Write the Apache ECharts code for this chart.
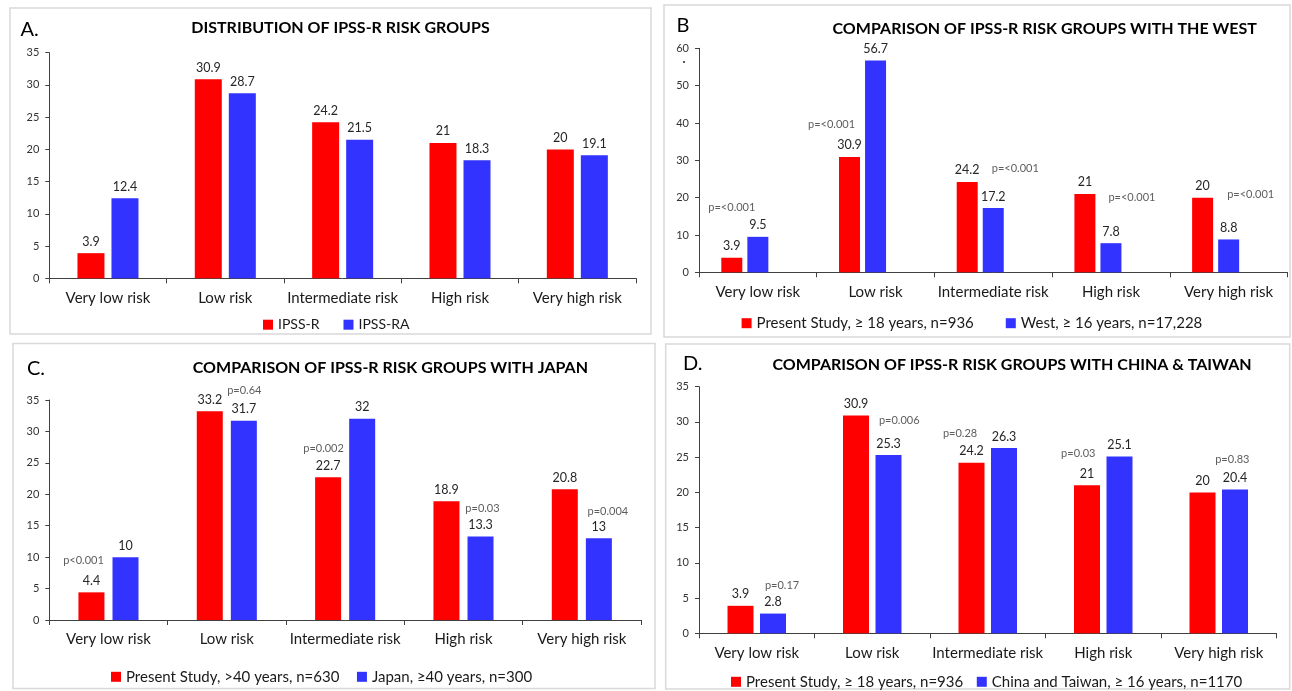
<!DOCTYPE html>
<html>
<head>
<meta charset="utf-8">
<title>IPSS-R risk groups</title>
<script src="https://cdn.jsdelivr.net/npm/echarts@6/dist/echarts.min.js"></script>
<style>
  html, body { margin: 0; padding: 0; background: #ffffff; }
  #chart { width: 1292px; height: 691px; }
</style>
</head>
<body>
<div id="chart"></div>
<script>
// ---- data ----
const categories = ['Very low risk', 'Low risk', 'Intermediate risk', 'High risk', 'Very high risk'];

// A. distribution of IPSS-R risk groups
const namesA = ['IPSS-R', 'IPSS-RA'];
const ipssR = [3.9, 30.9, 24.2, 21, 20];
const ipssRA = [12.4, 28.7, 21.5, 18.3, 19.1];

// B. comparison with the West
const namesB = ['Present Study, \u2265 18 years, n=936', 'West, \u2265 16 years, n=17,228'];
const presentB = [3.9, 30.9, 24.2, 21, 20];
const west = [9.5, 56.7, 17.2, 7.8, 8.8];
const pTextB = ['p=<0.001', 'p=<0.001', 'p=<0.001', 'p=<0.001', 'p=<0.001'];
const pBarB = [1, 0, 0, 1, 1];      // which bar of the pair each p-value annotates

// C. comparison with Japan
const namesC = ['Present Study, >40 years, n=630', 'Japan, \u226540 years, n=300'];
const presentC = [4.4, 33.2, 22.7, 18.9, 20.8];
const japan = [10, 31.7, 32, 13.3, 13];
const pTextC = ['p<0.001', 'p=0.64', 'p=0.002', 'p=0.03', 'p=0.004'];
const pBarC = [0, 1, 0, 1, 1];

// D. comparison with China & Taiwan
const namesD = ['Present Study, \u2265 18 years, n=936', 'China and Taiwan, \u2265 16 years, n=1170'];
const presentD = [3.9, 30.9, 24.2, 21, 20];
const chinaTaiwan = [2.8, 25.3, 26.3, 25.1, 20.4];
const pTextD = ['p=0.17', 'p=0.006', 'p=0.28', 'p=0.03', 'p=0.83'];
const pBarD = [1, 1, 0, 0, 1];

// axis ranges
const yRangeA = { max: 35, step: 5 };
const yRangeB = { max: 60, step: 10 };
const yRangeC = { max: 35, step: 5 };
const yRangeD = { max: 35, step: 5 };

// ---- layout & style ----
const FONT = 'Lato, "Open Sans", "DejaVu Sans", sans-serif';
const RED = '#FF0000';
const BLUE = '#3333FF';
const AXIS = '#404040';
const TEXT = '#1a1a1a';

const panels = [
  {
    letter: 'A.', title: 'DISTRIBUTION OF IPSS-R RISK GROUPS',
    names: namesA, values: [ipssR, ipssRA], range: yRangeA,
    pText: null, pBar: null, spacer: false,
    grid: { left: 49.3, top: 52.7, width: 586.7, height: 225.6 },
    barWidth: 27, barGap: '26%',
    box: [10, 8, 641, 326], titlePos: [340.5, 28], letterPos: [20.5, 30],
    legend: { left: 263, top: 317.7, itemGap: 24, fontSize: 14 },
    pOffsets: null
  },
  {
    letter: 'B', title: 'COMPARISON OF IPSS-R RISK GROUPS WITH THE WEST',
    names: namesB, values: [presentB, west], range: yRangeB,
    pText: pTextB, pBar: pBarB, spacer: true,
    grid: { left: 699, top: 48.3, width: 588.5, height: 224 },
    barWidth: 21, barGap: '24%',
    box: [664, 5, 626, 332], titlePos: [1044.7, 29], letterPos: [676.5, 26],
    legend: { left: 741.6, top: 315.7, itemGap: 32, fontSize: 15 },
    pOffsets: [[-26, -29], [-44, -32], [22, -14], [21, -46], [22, -44.5]]
  },
  {
    letter: 'C.', title: 'COMPARISON OF IPSS-R RISK GROUPS WITH JAPAN',
    names: namesC, values: [presentC, japan], range: yRangeC,
    pText: pTextC, pBar: pBarC, spacer: false,
    grid: { left: 49.3, top: 400, width: 591.7, height: 220 },
    barWidth: 26, barGap: '31%',
    box: [13, 343.5, 642, 345], titlePos: [390.4, 368.3], letterPos: [27, 368.3],
    legend: { left: 111, top: 669.3, itemGap: 17.6, fontSize: 15 },
    pOffsets: [[-25, -31.6], [17.5, -30.7], [-21.6, -29], [19, -28], [26, -27.3]]
  },
  {
    letter: 'D.', title: 'COMPARISON OF IPSS-R RISK GROUPS WITH CHINA & TAIWAN',
    names: namesD, values: [presentD, chinaTaiwan], range: yRangeD,
    pText: pTextD, pBar: pBarD, spacer: false,
    grid: { left: 699, top: 386.7, width: 577.5, height: 246.6 },
    barWidth: 26, barGap: '25%',
    box: [665.7, 344, 624, 345], titlePos: [1012, 365], letterPos: [683, 363.3],
    legend: { left: 731, top: 674.3, itemGap: 13.6, fontSize: 15 },
    pOffsets: [[25.3, -28.6], [27, -35], [-27.7, -29.5], [-25, -32], [13.6, -30.3]]
  }
];

const grids = [], xAxes = [], yAxes = [], series = [], legends = [], graphics = [];

panels.forEach((P, i) => {
  grids.push(Object.assign({ containLabel: false }, P.grid));

  xAxes.push({
    gridIndex: i, type: 'category', data: categories,
    axisLine: { show: true, lineStyle: { color: AXIS, width: 1 } },
    axisTick: { show: true, length: 5, alignWithLabel: false, lineStyle: { color: AXIS } },
    axisLabel: { interval: 0, color: TEXT, fontFamily: FONT, fontSize: 15, margin: 12 },
    splitLine: { show: false }
  });

  yAxes.push({
    gridIndex: i, type: 'value', min: 0, max: P.range.max, interval: P.range.step,
    axisLine: { show: true, lineStyle: { color: AXIS, width: 1 } },
    axisTick: { show: true, length: 4, lineStyle: { color: AXIS } },
    axisLabel: { color: '#333333', fontFamily: FONT, fontSize: 11, margin: 10 },
    splitLine: { show: false }
  });

  const colors = [RED, BLUE];
  P.values.forEach((vals, k) => {
    series.push({
      type: 'bar', name: P.names[k], xAxisIndex: i, yAxisIndex: i,
      data: vals, barWidth: P.barWidth, barGap: P.barGap,
      itemStyle: { color: colors[k] },
      label: { show: true, position: 'top', distance: 5, color: '#262626', fontFamily: FONT, fontSize: 12.5 },
      z: 2
    });
  });

  // empty third slot keeps the pair of bars left of centre
  if (P.spacer) {
    series.push({
      type: 'bar', name: 'spacer', xAxisIndex: i, yAxisIndex: i,
      data: categories.map(() => '-'), barWidth: P.barWidth, barGap: P.barGap,
      silent: true
    });
  }

  // p-value annotations, anchored to the top of the bar they refer to
  if (P.pText) {
    series.push({
      type: 'scatter', name: 'p-values', xAxisIndex: i, yAxisIndex: i,
      symbolSize: 1, itemStyle: { color: 'rgba(0,0,0,0)' }, silent: true, z: 5,
      data: P.pText.map((t, j) => ({
        value: [j, P.values[P.pBar[j]][j]],
        label: { offset: P.pOffsets[j] }
      })),
      label: {
        show: true, position: 'inside',
        formatter: (p) => P.pText[p.dataIndex],
        color: '#333333', fontFamily: FONT, fontSize: 11
      }
    });
  }

  legends.push({
    data: P.names, left: P.legend.left, top: P.legend.top, itemGap: P.legend.itemGap,
    padding: 0, itemWidth: 10, itemHeight: 10, icon: 'rect', selectedMode: false,
    textStyle: { color: TEXT, fontFamily: FONT, fontSize: P.legend.fontSize }
  });

  // panel frame, letter and heading
  graphics.push({
    type: 'rect', silent: true, z: -10,
    shape: { x: P.box[0], y: P.box[1], width: P.box[2], height: P.box[3] },
    style: { fill: 'none', stroke: '#d9d9d9', lineWidth: 1.5 }
  });
  graphics.push({
    type: 'text', silent: true, x: P.letterPos[0], y: P.letterPos[1],
    style: { text: P.letter, fill: '#000', font: '20px ' + FONT, align: 'left', verticalAlign: 'middle' }
  });
  graphics.push({
    type: 'text', silent: true, x: P.titlePos[0], y: P.titlePos[1],
    style: { text: P.title, fill: '#000', font: 'bold 16px ' + FONT, align: 'center', verticalAlign: 'middle' }
  });
});

// small stray dot under the top tick of panel B
graphics.push({
  type: 'circle', silent: true, shape: { cx: 684, cy: 62, r: 1.1 }, style: { fill: '#333' }
});

const chart = echarts.init(document.getElementById('chart'), null, { renderer: 'canvas' });
chart.setOption({
  animation: false,
  backgroundColor: '#ffffff',
  grid: grids,
  xAxis: xAxes,
  yAxis: yAxes,
  legend: legends,
  series: series,
  graphic: graphics
});
</script>
</body>
</html>
